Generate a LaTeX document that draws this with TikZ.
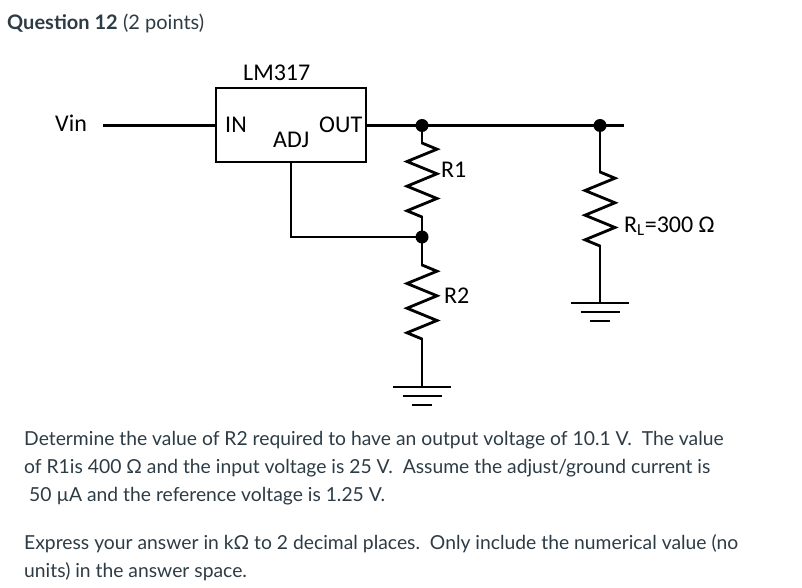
\documentclass[tikz,border=0pt]{standalone}
\usepackage{fontspec}
\setmainfont{Lato}
\newfontfamily\circfont{Carlito}
\definecolor{canvasgrey}{HTML}{2D3B45}
\tikzset{
  wire/.style={line width=2.8pt, line cap=rect},
  lbl/.style={font=\circfont\fontsize{24}{27}\selectfont, anchor=base west, inner sep=0pt},
  txt/.style={font=\fontsize{19.3}{23}\selectfont, text=canvasgrey, anchor=base west, inner sep=0pt},
  junc/.style={circle, fill=black, inner sep=0pt, minimum size=13pt},
  zz/.pic={\draw[line width=2.8pt, line join=miter]
    (0,0) -- (15,6.2) -- (-15,18.5) -- (15,30.8) -- (-15,43.2) -- (15,55.5) -- (-15,67.8) -- (0,74);},
  gnd/.pic={\draw[line width=2.8pt] (-29,0) -- (29,0) (-19.5,9) -- (19.5,9) (-10,18) -- (10,18);}
}
\begin{document}
\begin{tikzpicture}[x=1pt,y=-1pt]
\useasboundingbox (0,0) rectangle (802,588);
\node[txt, font=\fontsize{20}{23}\selectfont\bfseries] (title) at (7,30) {Question 12};
\node[txt, font=\fontsize{20}{23}\selectfont, anchor=base west] at ([xshift=5pt]title.base east) {(2 points)};

% regulator
\draw[wire] (216,88) rectangle (366,162);
\node[lbl] (lm) at (243,81) {LM317};
\node[lbl] (in) at (225,133) {IN};
\node[lbl] (out) at (319,133) {OUT};
\node[lbl] (adj) at (273,148) {ADJ};
\node[lbl] (vin) at (55,132) {Vin};
\coordinate (vinend) at (104,125.5);
\coordinate (regin) at (216,125.5);
\coordinate (regout) at (366,125.5);
\coordinate (regadj) at (291,162);
\draw[wire] (vinend) -- (regin);

% junctions
\node[junc] (j1) at (422,125.5) {};
\node[junc] (j2) at (422,237) {};
\node[junc] (j3) at (600,125.5) {};
\coordinate (outend) at (623,125.5);
\draw[wire] (regout) -- (j1) -- (j3) -- (outend);
\draw[wire] (regadj) |- (j2);

% R1
\coordinate (r1a) at (422,143);
\coordinate (r1b) at (422,217);
\draw[wire] (j1) -- (r1a);
\pic at (r1a) {zz};
\draw[wire] (r1b) -- (j2);
\node[lbl] (r1) at (441,178) {R1};

% R2
\coordinate (r2a) at (422,265);
\coordinate (r2b) at (422,339);
\coordinate (g1) at (422,387);
\draw[wire] (j2) -- (r2a);
\pic at (r2a) {zz};
\draw[wire] (r2b) -- (g1);
\pic at (g1) {gnd};
\node[lbl] (r2) at (444,303) {R2};

% load
\coordinate (rla) at (600,172);
\coordinate (rlb) at (600,246);
\coordinate (g2) at (600,303);
\draw[wire] (j3) -- (rla);
\pic at (rla) {zz};
\draw[wire] (rlb) -- (g2);
\pic at (g2) {gnd};
\node[lbl] (rl) at (624,232) {R\textsubscript{L}=300 Ω};

% question text
\node[txt] (l1) at (24,445) {Determine the value of R2 required to have an output voltage of 10.1 V.\ \ The value};
\node[txt] (l2) at (24,473) {of R1is 400 Ω and the input voltage is 25 V.\ \ Assume the adjust/ground current is};
\node[txt] (l3) at (29,501) {50 µA and the reference voltage is 1.25 V.};
\node[txt] (l4) at (24,549) {Express your answer in kΩ to 2 decimal places.\ \ Only include the numerical value (no};
\node[txt] (l5) at (24,577) {units) in the answer space.};
\end{tikzpicture}
\end{document}
